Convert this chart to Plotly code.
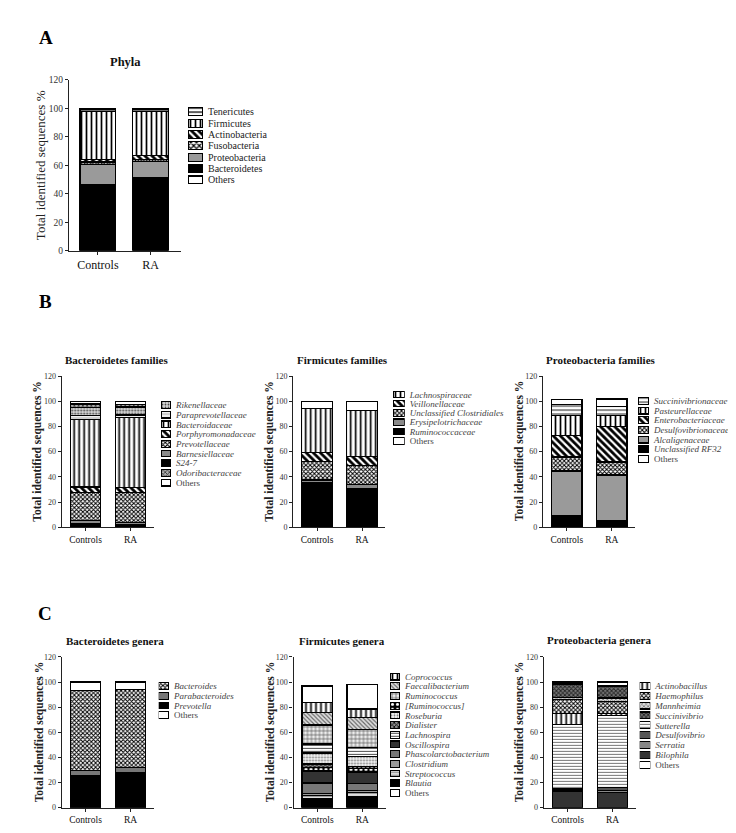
import plotly.graph_objects as go

# ---------------- DATA ----------------
groups = ["Controls", "RA"]

# A - Phyla (legend order, top to bottom)
phyla_names = ["Tenericutes", "Firmicutes", "Actinobacteria", "Fusobacteria",
               "Proteobacteria", "Bacteroidetes", "Others"]
phyla_controls = [1.5, 34.0, 1.6, 1.8, 13.9, 46.7, 0.5]
phyla_ra = [1.5, 31.2, 2.8, 1.1, 11.6, 51.3, 0.5]
phyla_stack = ["Bacteroidetes", "Proteobacteria", "Fusobacteria", "Actinobacteria",
               "Firmicutes", "Tenericutes", "Others"]

# B - Bacteroidetes families
bfam_names = ["Rikenellaceae", "Paraprevotellaceae", "Bacteroidaceae", "Porphyromonadaceae",
              "Prevotellaceae", "Barnesiellaceae", "S24-7", "Odoribacteraceae", "Others"]
bfam_controls = [6.6, 3.1, 53.6, 4.5, 21.9, 2.6, 3.0, 2.6, 2.1]
bfam_ra = [6.3, 2.2, 55.5, 4.0, 24.0, 1.5, 2.0, 2.1, 2.4]
bfam_stack = ["S24-7", "Barnesiellaceae", "Prevotellaceae", "Porphyromonadaceae", "Bacteroidaceae",
              "Paraprevotellaceae", "Rikenellaceae", "Odoribacteraceae", "Others"]

# B - Firmicutes families
ffam_names = ["Lachnospiraceae", "Veillonellaceae", "Unclassified Clostridiales",
              "Erysipelotrichaceae", "Ruminococcaceae", "Others"]
ffam_controls = [34.5, 7.3, 14.9, 2.1, 35.3, 5.9]
ffam_ra = [36.6, 7.3, 15.2, 3.1, 30.6, 7.2]
ffam_stack = ["Ruminococcaceae", "Erysipelotrichaceae", "Unclassified Clostridiales",
              "Veillonellaceae", "Lachnospiraceae", "Others"]

# B - Proteobacteria families
pfam_names = ["Succinivibrionaceae", "Pasteurellaceae", "Enterobacteriaceae",
              "Desulfovibrionaceae", "Alcaligenaceae", "Unclassified RF32", "Others"]
pfam_controls = [8.5, 16.0, 17.0, 11.2, 35.2, 9.4, 4.2]
pfam_ra = [7.3, 8.4, 28.2, 10.4, 36.3, 5.2, 6.0]
pfam_stack = ["Unclassified RF32", "Alcaligenaceae", "Desulfovibrionaceae", "Enterobacteriaceae",
              "Pasteurellaceae", "Succinivibrionaceae", "Others"]

# C - Bacteroidetes genera
bgen_names = ["Bacteroides", "Parabacteroides", "Prevotella", "Others"]
bgen_controls = [63.7, 3.9, 25.7, 6.7]
bgen_ra = [62.1, 4.2, 27.5, 6.2]
bgen_stack = ["Prevotella", "Parabacteroides", "Bacteroides", "Others"]

# C - Firmicutes genera
fgen_names = ["Coprococcus", "Faecalibacterium", "Ruminococcus", "[Ruminococcus]", "Roseburia",
              "Dialister", "Lachnospira", "Oscillospira", "Phascolarctobacterium", "Clostridium",
              "Streptococcus", "Blautia", "Others"]
fgen_controls = [7.8, 10.2, 15.2, 3.1, 8.7, 2.6, 7.1, 9.5, 8.3, 1.9, 2.6, 6.8, 13.1]
fgen_ra = [7.1, 9.1, 14.5, 3.1, 7.9, 2.1, 7.0, 8.7, 5.7, 1.6, 3.2, 8.6, 19.6]
fgen_stack = ["Blautia", "Streptococcus", "Clostridium", "Phascolarctobacterium", "Oscillospira",
              "[Ruminococcus]", "Dialister", "Roseburia", "Lachnospira", "Ruminococcus",
              "Faecalibacterium", "Coprococcus", "Others"]

# C - Proteobacteria genera
pgen_names = ["Actinobacillus", "Haemophilus", "Mannheimia", "Succinivibrio", "Sutterella",
              "Desulfovibrio", "Serratia", "Bilophila", "Others"]
pgen_controls = [8.4, 11.2, 1.9, 10.7, 51.4, 1.5, 0.8, 12.6, 1.5]
pgen_ra = [1.5, 9.7, 2.6, 9.7, 57.4, 2.1, 1.8, 12.1, 3.1]
pgen_stack = ["Bilophila", "Serratia", "Desulfovibrio", "Sutterella", "Actinobacillus",
              "Haemophilus", "Mannheimia", "Succinivibrio", "Others"]

y_ticks = [0, 20, 40, 60, 80, 100, 120]

# ---------------- STYLES ----------------
# (shape, fgcolor, bgcolor, size, solidity)
BLACK = ("", "#000000", "#000000", 4, 0.3)
WHITE = ("", "#000000", "#ffffff", 4, 0.3)
VLINES = ("|", "#000000", "#ffffff", 5, 0.34)
HLINES = ("-", "#000000", "#ffffff", 4, 0.32)
DIAG = ("\\", "#000000", "#ffffff", 5, 0.55)
XHATCH = ("x", "#000000", "#ffffff", 4, 0.5)
def solid(c):
    return ("", c, c, 4, 0.3)

styles_a = {"Tenericutes": HLINES, "Firmicutes": VLINES, "Actinobacteria": DIAG,
            "Fusobacteria": XHATCH, "Proteobacteria": solid("#9a9a9a"),
            "Bacteroidetes": BLACK, "Others": WHITE}
styles_b1 = {"Rikenellaceae": (".", "#444444", "#d8d8d8", 3, 0.3),
             "Paraprevotellaceae": ("-", "#999999", "#eeeeee", 4, 0.2),
             "Bacteroidaceae": VLINES, "Porphyromonadaceae": DIAG,
             "Prevotellaceae": ("x", "#000000", "#ffffff", 3, 0.55),
             "Barnesiellaceae": solid("#8a8a8a"), "S24-7": BLACK,
             "Odoribacteraceae": ("x", "#333333", "#aaaaaa", 3, 0.45), "Others": WHITE}
styles_b2 = {"Lachnospiraceae": VLINES, "Veillonellaceae": DIAG,
             "Unclassified Clostridiales": ("x", "#000000", "#ffffff", 3, 0.55),
             "Erysipelotrichaceae": solid("#8a8a8a"), "Ruminococcaceae": BLACK, "Others": WHITE}
styles_b3 = {"Succinivibrionaceae": ("-", "#333333", "#ffffff", 4, 0.28), "Pasteurellaceae": VLINES,
             "Enterobacteriaceae": DIAG,
             "Desulfovibrionaceae": ("x", "#000000", "#ffffff", 3, 0.55),
             "Alcaligenaceae": solid("#9a9a9a"), "Unclassified RF32": BLACK, "Others": WHITE}
styles_c1 = {"Bacteroides": ("x", "#000000", "#ffffff", 3, 0.55),
             "Parabacteroides": solid("#777777"), "Prevotella": BLACK, "Others": WHITE}
styles_c2 = {"Coprococcus": VLINES,
             "Faecalibacterium": ("\\", "#666666", "#dddddd", 3, 0.38),
             "Ruminococcus": ("+", "#555555", "#eeeeee", 4, 0.32),
             "[Ruminococcus]": (".", "#ffffff", "#000000", 5, 0.3),
             "Roseburia": (".", "#777777", "#f6f6f6", 3, 0.3),
             "Dialister": ("x", "#000000", "#888888", 3, 0.45),
             "Lachnospira": ("-", "#444444", "#ffffff", 3, 0.32),
             "Oscillospira": solid("#333333"), "Phascolarctobacterium": solid("#777777"),
             "Clostridium": solid("#9a9a9a"),
             "Streptococcus": ("-", "#888888", "#dddddd", 3, 0.3),
             "Blautia": BLACK, "Others": WHITE}
styles_c3 = {"Actinobacillus": VLINES, "Haemophilus": ("x", "#000000", "#ffffff", 3, 0.55),
             "Mannheimia": ("x", "#666666", "#dddddd", 3, 0.38),
             "Succinivibrio": ("x", "#222222", "#777777", 3, 0.5),
             "Sutterella": ("-", "#666666", "#ffffff", 3, 0.3),
             "Desulfovibrio": solid("#555555"), "Serratia": solid("#888888"),
             "Bilophila": solid("#333333"), "Others": WHITE}

# ---------------- LAYOUT GEOMETRY (pixels) ----------------
W, H = 736, 833
def fx(p):
    return p / W
def fy(p):
    return 1 - p / H

SERIF = "Liberation Serif, Times New Roman, serif"

panels = [
    dict(title="Phyla", names=phyla_names, ctrl=phyla_controls, ra=phyla_ra, stack=phyla_stack,
         styles=styles_a, italic=False, big=True,
         ax=(61, 173, 67.7, 240.7), xr=(-0.55, 1.58), leg=(180, 195, 94.25, 174.75),
         tpos=(117, 50), ytpos=(32, 154)),
    dict(title="Bacteroidetes families", names=bfam_names, ctrl=bfam_controls, ra=bfam_ra,
         stack=bfam_stack, styles=styles_b1, italic=True, big=False,
         ax=(53.65, 145.9, 367.5, 520.5), xr=(-0.53, 1.52), leg=(153, 163, 391.8, 480.2),
         tpos=(108, 351.5), ytpos=(30, 444)),
    dict(title="Firmicutes families", names=ffam_names, ctrl=ffam_controls, ra=ffam_ra,
         stack=ffam_stack, styles=styles_b2, italic=True, big=False,
         ax=(285.2, 377.4, 367.5, 520.5), xr=(-0.53, 1.52), leg=(385, 396.7, 381.3, 437.7),
         tpos=(334.7, 351.7), ytpos=(262, 444)),
    dict(title="Proteobacteria families", names=pfam_names, ctrl=pfam_controls, ra=pfam_ra,
         stack=pfam_stack, styles=styles_b3, italic=True, big=False,
         ax=(535, 627.2, 367.5, 520.5), xr=(-0.53, 1.52), leg=(630, 641, 387.8, 456.2),
         tpos=(593.3, 351), ytpos=(511.5, 444)),
    dict(title="Bacteroidetes genera", names=bgen_names, ctrl=bgen_controls, ra=bgen_ra,
         stack=bgen_stack, styles=styles_c1, italic=True, big=False,
         ax=(53.65, 145.9, 651.7, 804.3), xr=(-0.53, 1.52), leg=(150.7, 161, 676.4, 715.6),
         tpos=(106.7, 635.7), ytpos=(31, 728)),
    dict(title="Firmicutes genera", names=fgen_names, ctrl=fgen_controls, ra=fgen_ra,
         stack=fgen_stack, styles=styles_c2, italic=True, big=False,
         ax=(285.5, 377.7, 651.7, 804.3), xr=(-0.53, 1.52), leg=(382, 392, 666.8, 794.2),
         tpos=(334, 635.7), ytpos=(262, 728)),
    dict(title="Proteobacteria genera", names=pgen_names, ctrl=pgen_controls, ra=pgen_ra,
         stack=pgen_stack, styles=styles_c3, italic=True, big=False,
         ax=(535.7, 627.9, 651.7, 804.3), xr=(-0.53, 1.52), leg=(631.7, 642.3, 676, 766),
         tpos=(590.8, 635), ytpos=(511, 728)),
]

letters = [("A", 38, 25), ("B", 37, 292), ("C", 37, 608)]


def ids(i):
    s = "" if i == 1 else str(i)
    return "xaxis" + s, "yaxis" + s, "x" + s, "y" + s


def pattern_marker(style, lw):
    shape, fg, bg, size, sol = style
    return dict(color=bg, line=dict(color="#000000", width=lw),
                pattern=dict(shape=shape, fgcolor=fg, bgcolor=bg, size=size,
                             solidity=sol, fillmode="replace"))


fig = go.Figure()
layout_axes = {}
annotations = []

for k, p in enumerate(panels):
    big = p["big"]
    i_main, i_leg = 2 * k + 1, 2 * k + 2
    xa, ya, xr_, yr_ = ids(i_main)
    lxa, lya, lxr, lyr = ids(i_leg)

    # ---- stacked bars ----
    for name in p["stack"]:
        idx = p["names"].index(name)
        fig.add_trace(go.Bar(
            x=groups, y=[p["ctrl"][idx], p["ra"][idx]], name=name,
            xaxis=xr_, yaxis=yr_, width=0.68, showlegend=False, cliponaxis=False,
            marker=pattern_marker(p["styles"][name], 1.3),
            hovertemplate=name + ": %{y}<extra>%{x}</extra>"))

    x0, x1, ytop, ybot = p["ax"]
    layout_axes[xa] = dict(domain=[fx(x0), fx(x1)], anchor=yr_, type="category",
                           categoryorder="array", categoryarray=groups, range=list(p["xr"]),
                           showline=True, linecolor="#222222", linewidth=1.2,
                           ticks="outside", ticklen=3, tickcolor="#222222", showgrid=False,
                           zeroline=False,
                           tickfont=dict(family=SERIF, size=12 if big else 9.5, color="#111111"))
    layout_axes[ya] = dict(domain=[fy(ybot), fy(ytop)], anchor=xr_, range=[0, 120],
                           tickvals=y_ticks, showline=True, linecolor="#222222", linewidth=1.2,
                           ticks="outside", ticklen=3, tickcolor="#222222", showgrid=False,
                           zeroline=False,
                           tickfont=dict(family=SERIF, size=9.5 if big else 8, color="#333333"))

    # ---- legend: one swatch bar per entry on a small helper axis ----
    names = p["names"]
    for n in names:
        fig.add_trace(go.Bar(
            y=[n], x=[1], orientation="h", xaxis=lxr, yaxis=lyr, width=0.7,
            showlegend=False, cliponaxis=False, hoverinfo="skip",
            marker=pattern_marker(p["styles"][n], 1.1)))
    lx0, lx1, ltop, lbot = p["leg"]
    ticktext = [("<i>%s</i>" % n if (p["italic"] and n != "Others") else n) for n in names]
    layout_axes[lxa] = dict(domain=[fx(lx0), fx(lx1)], anchor=lyr, range=[0, 1], visible=False)
    layout_axes[lya] = dict(domain=[fy(lbot), fy(ltop)], anchor=lxr, type="category",
                            categoryorder="array", categoryarray=names,
                            range=[len(names) - 0.5, -0.5], side="right",
                            tickvals=names, ticktext=ticktext, showline=False, showgrid=False,
                            zeroline=False, ticks="", ticklabelstandoff=4,
                            tickfont=dict(family=SERIF, size=10 if big else 9,
                                          color="#222222" if big else "#444444"))

    # ---- titles ----
    tx, ty = p["tpos"]
    annotations.append(dict(text="<b>%s</b>" % p["title"], x=fx(tx), y=fy(ty), xref="paper",
                            yref="paper", showarrow=False, xanchor="center", yanchor="middle",
                            font=dict(family=SERIF, size=12.5 if big else 11, color="#111111")))
    yx, yy = p["ytpos"]
    ytxt = "Total identified sequences %" if big else "<b>Total identified sequences %</b>"
    annotations.append(dict(text=ytxt, x=fx(yx), y=fy(yy), xref="paper", yref="paper",
                            showarrow=False, textangle=-90, xanchor="center", yanchor="middle",
                            font=dict(family=SERIF, size=13 if big else 11.5, color="#222222")))

for t, lx, ly in letters:
    annotations.append(dict(text="<b>%s</b>" % t, x=fx(lx), y=fy(ly), xref="paper", yref="paper",
                            showarrow=False, xanchor="center", yanchor="middle",
                            font=dict(family=SERIF, size=19, color="#000000")))

fig.update_layout(
    width=W, height=H, margin=dict(l=0, r=0, t=0, b=0, pad=0),
    paper_bgcolor="#ffffff", plot_bgcolor="#ffffff", barmode="stack",
    showlegend=False, annotations=annotations, **layout_axes)

fig.write_html("out.html")
